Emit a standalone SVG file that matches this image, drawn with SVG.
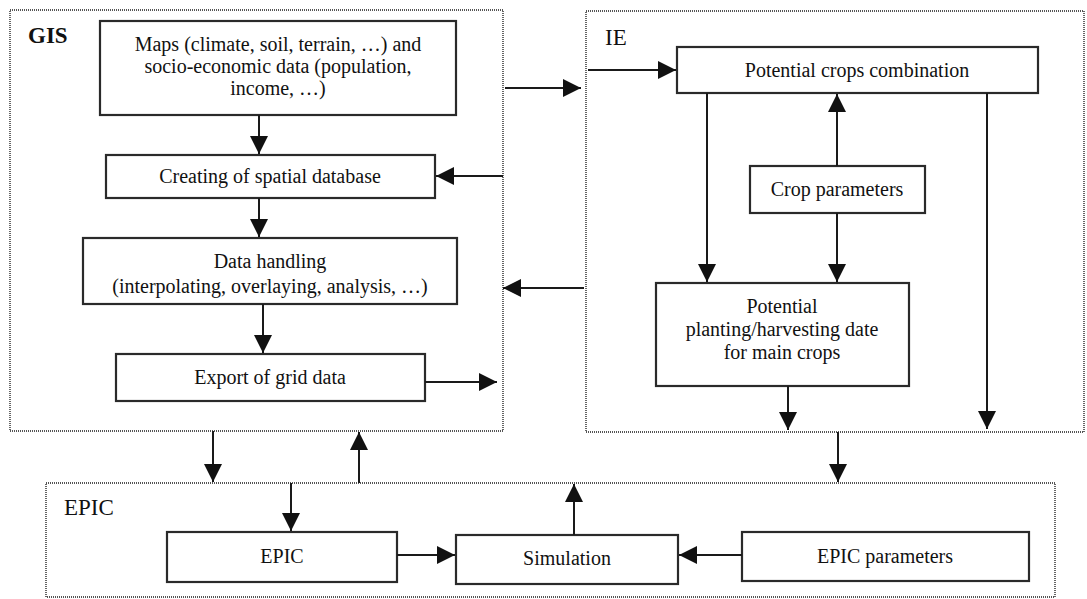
<svg xmlns="http://www.w3.org/2000/svg" width="1087" height="599" viewBox="0 0 1087 599">
  <defs>
    <marker id="arrow" markerUnits="userSpaceOnUse" markerWidth="18" markerHeight="18" refX="18" refY="9" orient="auto">
      <path d="M0,0 L18,9 L0,18 z" fill="#111"/>
    </marker>
    <style>
      .container { fill: none; stroke: #555; stroke-width: 1.8; stroke-dasharray: 1 1; }
      .box { fill: #fff; stroke: #2a2a2a; stroke-width: 2.2; }
      .label { font-family: "Liberation Serif", "Times New Roman", serif; font-size: 20px; fill: #111; text-anchor: middle; }
      .title { font-family: "Liberation Serif", "Times New Roman", serif; font-size: 23px; fill: #111; }
      .conn { fill: none; stroke: #1a1a1a; stroke-width: 2; marker-end: url(#arrow); }
    </style>
  </defs>
  <rect width="1087" height="599" fill="#fff"/>

  <!-- module frames -->
  <g id="gis">
    <rect class="container" x="10" y="10" width="493" height="421"/>
    <text class="title" x="28" y="43" font-weight="bold">GIS</text>
  </g>
  <g id="ie">
    <rect class="container" x="586" y="11" width="498" height="421"/>
    <text class="title" x="605" y="45">IE</text>
  </g>
  <g id="epic">
    <rect class="container" x="46" y="483" width="1009" height="114"/>
    <text class="title" x="64" y="515">EPIC</text>
  </g>

  <!-- GIS steps -->
  <g id="maps">
    <rect class="box" x="100" y="21" width="356" height="94"/>
    <text class="label" x="278" y="51">Maps (climate, soil, terrain, …) and</text>
    <text class="label" x="278" y="73">socio-economic data (population,</text>
    <text class="label" x="278" y="95">income, …)</text>
  </g>
  <g id="spatial-db">
    <rect class="box" x="106" y="155" width="329" height="43"/>
    <text class="label" x="270" y="183">Creating of spatial database</text>
  </g>
  <g id="data-handling">
    <rect class="box" x="83" y="238" width="374" height="66"/>
    <text class="label" x="270" y="268">Data handling</text>
    <text class="label" x="270" y="293">(interpolating, overlaying, analysis, …)</text>
  </g>
  <g id="export">
    <rect class="box" x="116" y="354" width="309" height="47"/>
    <text class="label" x="270" y="384">Export of grid data</text>
  </g>

  <!-- IE steps -->
  <g id="crops-combination">
    <rect class="box" x="677" y="47" width="361" height="46"/>
    <text class="label" x="857" y="77">Potential crops combination</text>
  </g>
  <g id="crop-parameters">
    <rect class="box" x="750" y="166" width="175" height="47"/>
    <text class="label" x="837" y="196">Crop parameters</text>
  </g>
  <g id="planting-date">
    <rect class="box" x="656" y="283" width="253" height="103"/>
    <text class="label" x="782" y="313">Potential</text>
    <text class="label" x="782" y="336">planting/harvesting date</text>
    <text class="label" x="782" y="359">for main crops</text>
  </g>

  <!-- EPIC steps -->
  <g id="epic-model">
    <rect class="box" x="167" y="532" width="230" height="50"/>
    <text class="label" x="282" y="563">EPIC</text>
  </g>
  <g id="simulation">
    <rect class="box" x="456" y="535" width="222" height="49"/>
    <text class="label" x="567" y="565">Simulation</text>
  </g>
  <g id="epic-parameters">
    <rect class="box" x="742" y="532" width="287" height="49"/>
    <text class="label" x="885" y="563">EPIC parameters</text>
  </g>

  <!-- connectors -->
  <g id="connectors">
    <line class="conn" x1="259" y1="115" x2="259" y2="154"/>
    <line class="conn" x1="259" y1="198" x2="259" y2="237"/>
    <line class="conn" x1="263" y1="304" x2="263" y2="353"/>
    <line class="conn" x1="503" y1="176" x2="436" y2="176"/>
    <line class="conn" x1="425" y1="382" x2="497" y2="382"/>
    <line class="conn" x1="584" y1="288" x2="503" y2="288"/>
    <line class="conn" x1="505" y1="88" x2="581" y2="88"/>
    <line class="conn" x1="588" y1="70" x2="676" y2="70"/>
    <line class="conn" x1="837" y1="166" x2="837" y2="94"/>
    <line class="conn" x1="837" y1="213" x2="837" y2="282"/>
    <line class="conn" x1="707" y1="93" x2="707" y2="282"/>
    <line class="conn" x1="987" y1="93" x2="987" y2="429"/>
    <line class="conn" x1="788" y1="386" x2="788" y2="430"/>
    <line class="conn" x1="838" y1="432" x2="838" y2="482"/>
    <line class="conn" x1="213" y1="431" x2="213" y2="482"/>
    <line class="conn" x1="359" y1="483" x2="359" y2="432"/>
    <line class="conn" x1="291" y1="483" x2="291" y2="531"/>
    <line class="conn" x1="574" y1="535" x2="574" y2="484"/>
    <line class="conn" x1="397" y1="555" x2="455" y2="555"/>
    <line class="conn" x1="742" y1="555" x2="679" y2="555"/>
  </g>
</svg>
